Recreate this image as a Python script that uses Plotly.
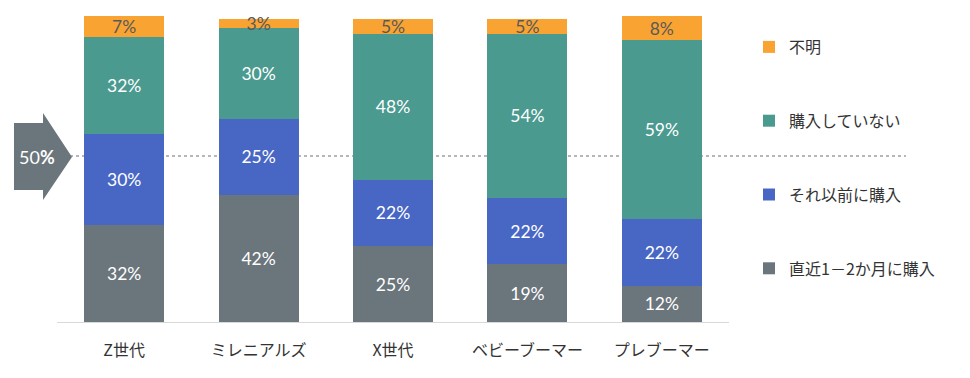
import plotly.graph_objects as go

categories = ["Z世代", "ミレニアルズ", "X世代", "ベビーブーマー", "プレブーマー"]
recent = [32, 42, 25, 19, 12]
earlier = [30, 25, 22, 22, 22]
not_bought = [32, 30, 48, 54, 59]
unknown = [7, 3, 5, 5, 8]

series = [
    ("直近1－2か月に購入", recent, "#6b757c", "white", 4),
    ("それ以前に購入", earlier, "#4867c4", "white", 3),
    ("購入していない", not_bought, "#4a9a8f", "white", 2),
    ("不明", unknown, "#f9a432", "#595959", 1),
]

OFF = 8  # page body margin
W, H = 970 - 2 * OFF, 378 - 2 * OFF
L, R, T, B = 57 - OFF, 729 - OFF, 16 - OFF, 322 - OFF

def px(x):
    return (x - OFF - L) / (R - L)

def py(y):
    return (B - (y - OFF)) / (B - T)

fig = go.Figure()
for i, (name, vals, color, tcolor, rank) in enumerate(series):
    fig.add_trace(go.Bar(
        x=categories, y=vals, name=name,
        marker=dict(color=color, line=dict(width=0)),
        text=[f"{v}%" for v in vals],
        textposition="inside", insidetextanchor="middle",
        textfont=dict(color=tcolor, size=17.5, family="Lato, Noto Sans CJK JP"),
        legendgroup=f"g{i}", legendrank=rank,
        hoverinfo="skip",
    ))

# arrow pentagon
pts = [(14, 123), (43, 123), (43, 113), (72, 157), (43, 200), (43, 190), (14, 190)]
path = "M " + " L ".join(f"{px(x):.4f},{py(y):.4f}" for x, y in pts) + " Z"

fig.update_layout(
    width=W, height=H,
    barmode="stack", bargap=0.405,
    margin=dict(l=L, r=W - R, t=T, b=H - B, pad=0),
    plot_bgcolor="white", paper_bgcolor="white",
    font=dict(family="Lato, Noto Sans CJK JP", color="#333333"),
    uniformtext=dict(minsize=17.5, mode="show"),
    showlegend=True,
    legend=dict(
        traceorder="grouped", tracegroupgap=50,
        x=px(749), xanchor="left", y=py(30), yanchor="top",
        font=dict(size=16, color="#333333", family="Noto Sans CJK JP"),
        itemwidth=30, bgcolor="rgba(0,0,0,0)",
    ),
    xaxis=dict(
        showline=True, linecolor="#d9d9d9", linewidth=1,
        showgrid=False, ticks="", ticklabelstandoff=14,
        tickfont=dict(size=16, color="#333333", family="Noto Sans CJK JP"),
    ),
    yaxis=dict(range=[0, 101], visible=False, showgrid=False),
    shapes=[
        dict(type="line", xref="paper", yref="paper",
             x0=px(70), x1=px(906), y0=py(156), y1=py(156),
             line=dict(color="#a0a0a0", width=1.5, dash="dot"), layer="below"),
        dict(type="path", xref="paper", yref="paper", path=path,
             fillcolor="#6b757c", line=dict(width=0)),
        dict(type="line", xref="paper", yref="paper",
             x0=px(3), x1=px(3), y0=py(1), y1=py(377),
             line=dict(color="#e0dde0", width=2)),
    ],
    annotations=[
        dict(xref="paper", yref="paper", x=px(37), y=py(157),
             xanchor="center", yanchor="middle",
             text="50<b>%</b>", showarrow=False,
             font=dict(size=18, color="white", family="Lato")),
    ],
)

fig.write_html("out.html")
